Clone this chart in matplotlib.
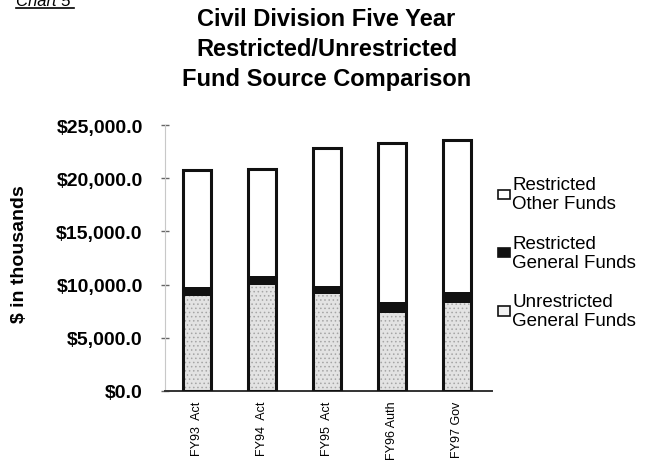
import matplotlib
matplotlib.use("Agg")
import matplotlib.pyplot as plt
from matplotlib.patches import Patch
from matplotlib.lines import Line2D
import numpy as np

# Fund sources by fiscal year, $ in thousands
years = ["FY93  Act", "FY94  Act", "FY95  Act", "FY96 Auth", "FY97 Gov"]
unrestricted_general = [8900, 10000, 9100, 7300, 8300]
restricted_general = [850, 800, 800, 1050, 1000]
restricted_other = [11050, 10100, 12900, 14950, 14300]

y_ticks = [0, 5000, 10000, 15000, 20000, 25000]

plt.rcParams["font.family"] = ["Liberation Sans", "DejaVu Sans"]
plt.rcParams["hatch.linewidth"] = 0.6

fig = plt.figure(figsize=(6.53, 4.77), dpi=100)
ax = fig.add_axes([165 / 653, 1 - 392 / 477, 327 / 653, 266 / 477])

x = np.arange(len(years))
width = 0.43
ug = np.array(unrestricted_general)
rg = np.array(restricted_general)
ro = np.array(restricted_other)

# stacked fills, outline drawn separately over the full bar
ax.bar(x, ug, width, color="#e3e3e3", edgecolor="#a5a5a5", linewidth=0,
       hatch="....", zorder=2)
ax.bar(x, rg, width, bottom=ug, color="#111111", linewidth=0, zorder=2)
ax.bar(x, ro, width, bottom=ug + rg, color="white", linewidth=0, zorder=2)
ax.bar(x, ug + rg + ro, width, fill=False, edgecolor="#111111",
       linewidth=2.2, zorder=3)

ax.set_xlim(-0.49, 4.53)
ax.set_ylim(0, 25000)
ax.set_yticks(y_ticks)
ax.set_yticklabels([f"${v:,.1f}" for v in y_ticks], fontsize=14,
                   fontweight="bold")
ax.set_xticks(x)
ax.set_xticklabels(years, rotation=90, fontsize=9)

ax.tick_params(axis="y", direction="inout", length=6, width=1,
               color="#666666", pad=13)
ax.tick_params(axis="x", length=0, pad=7)

for side in ["top", "right"]:
    ax.spines[side].set_visible(False)
ax.spines["left"].set_color("#c8c8c8")
ax.spines["left"].set_linewidth(0.8)
ax.spines["bottom"].set_color("#333333")
ax.spines["bottom"].set_linewidth(1.4)

ax.set_ylabel("$ in thousands", fontsize=14, fontweight="bold")
ax.yaxis.set_label_coords(-0.42, 0.52)

fig.text(0.5, 1 - 8 / 477, "Civil Division Five Year\nRestricted/Unrestricted\n"
         "Fund Source Comparison", ha="center", va="top", fontsize=17,
         fontweight="bold", linespacing=1.4)

# page heading, partly cut by the top edge
fig.text(0.024, 1 - 2 / 477, "Chart 5", fontsize=12, style="italic",
         ha="left", va="center")
fig.add_artist(Line2D([0.024, 0.114], [1 - 9 / 477, 1 - 9 / 477],
                      color="black", linewidth=1.2,
                      transform=fig.transFigure))

handles = [
    Patch(facecolor="white", edgecolor="#111111", linewidth=1.2),
    Patch(facecolor="#111111", edgecolor="#111111", linewidth=1.2),
    Patch(facecolor="#f2f2f2", edgecolor="#111111", linewidth=1.2),
]
labels = ["Restricted\nOther Funds", "Restricted\nGeneral Funds",
          "Unrestricted\nGeneral Funds"]
leg = fig.legend(handles, labels, loc="upper left",
                 bbox_to_anchor=(490 / 653, 1 - 170 / 477), frameon=False,
                 fontsize=13.5, handlelength=0.65, handleheight=0.4,
                 handletextpad=0.15, labelspacing=1.2, borderaxespad=0)
for t in leg.get_texts():
    t.set_linespacing(1.15)

fig.savefig("out.png", dpi=100)
